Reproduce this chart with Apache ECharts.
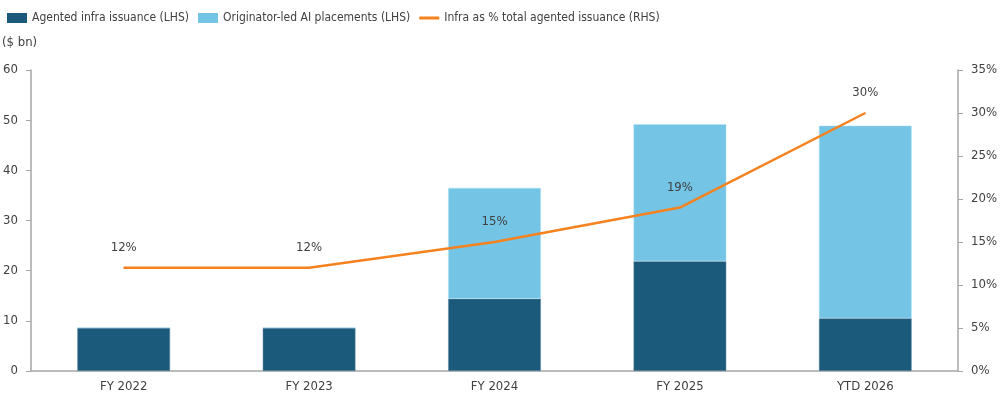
<!DOCTYPE html>
<html>
<head>
<meta charset="utf-8">
<script src="https://cdn.jsdelivr.net/npm/echarts@6/dist/echarts.min.js"></script>
<style>
  html, body { margin: 0; padding: 0; background: #fff; }
  #chart { width: 1000px; height: 400px; }
</style>
</head>
<body>
<div id="chart"></div>
<script>
// values
var categories = ['FY 2022', 'FY 2023', 'FY 2024', 'FY 2025', 'YTD 2026']
var agentedInfra = [8.6, 8.6, 14.4, 21.9, 10.5]
var originatorLed = [0, 0, 22.1, 27.3, 38.4]
var infraPct = [12, 12, 15, 19, 30]
var leftTicks = [0, 10, 20, 30, 40, 50, 60]
var rightTicks = [0, 5, 10, 15, 20, 25, 30, 35]

var font = "'DejaVu Sans Condensed', 'Liberation Sans Narrow', 'Roboto', sans-serif"
var textColor = '#404040'
var axisGray = '#a6a6a6'

var chart = echarts.init(document.getElementById('chart'), null, { renderer: 'canvas' })

var option = {
  animation: false,
  textStyle: { fontFamily: font, color: textColor },
  legend: {
    left: 2,
    top: 7,
    itemWidth: 20,
    itemHeight: 10,
    itemGap: 9,
    itemStyle: { borderWidth: 0 },
    textStyle: { fontFamily: font, fontSize: 12, color: textColor },
    data: [
      { name: 'Agented infra issuance (LHS)', icon: 'rect' },
      { name: 'Originator-led AI placements (LHS)', icon: 'rect' },
      { name: 'Infra as % total agented issuance (RHS)', icon: 'path://M0,0 L20,0 L20,3 L0,3 Z' }
    ]
  },
  graphic: [{
    type: 'text',
    left: 2,
    top: 36,
    style: { text: '($ bn)', fontFamily: font, fontSize: 13, fill: textColor }
  }],
  grid: { left: 31, right: 41, top: 70, bottom: 29 },
  xAxis: {
    type: 'category',
    data: categories,
    axisLine: { lineStyle: { color: axisGray, width: 1.5 } },
    axisTick: { show: false },
    axisLabel: { color: textColor, fontFamily: font, fontSize: 13, margin: 9 }
  },
  yAxis: [{
    type: 'value',
    min: leftTicks[0],
    max: leftTicks[leftTicks.length - 1],
    interval: 10,
    axisLine: { show: true, lineStyle: { color: axisGray, width: 1.5 } },
    axisTick: { show: true, length: 5, lineStyle: { color: axisGray } },
    splitLine: { show: false },
    axisLabel: { color: textColor, fontFamily: font, fontSize: 13, margin: 13 }
  }, {
    type: 'value',
    min: rightTicks[0],
    max: rightTicks[rightTicks.length - 1],
    interval: 5,
    position: 'right',
    axisLine: { show: true, lineStyle: { color: axisGray, width: 1.5 } },
    axisTick: { show: true, length: 5, lineStyle: { color: axisGray } },
    splitLine: { show: false },
    axisLabel: { color: textColor, fontFamily: font, fontSize: 13, margin: 13, formatter: '{value}%' }
  }],
  series: [{
    name: 'Agented infra issuance (LHS)',
    type: 'bar',
    stack: 'lhs',
    barWidth: '50%',
    data: agentedInfra,
    itemStyle: { color: '#1b5a7a', borderColor: '#6a8fa6', borderWidth: 0.5 }
  }, {
    name: 'Originator-led AI placements (LHS)',
    type: 'bar',
    stack: 'lhs',
    barWidth: '50%',
    data: originatorLed,
    itemStyle: { color: '#73c4e5', borderColor: '#b3e0f2', borderWidth: 0.5 }
  }, {
    name: 'Infra as % total agented issuance (RHS)',
    type: 'line',
    yAxisIndex: 1,
    data: infraPct,
    symbol: 'circle',
    symbolSize: 1,
    showSymbol: true,
    smooth: false,
    lineStyle: { color: '#f5821f', width: 2.5 },
    itemStyle: { color: '#f5821f' },
    label: {
      show: true,
      position: 'top',
      distance: 13,
      formatter: '{c}%',
      color: textColor,
      fontFamily: font,
      fontSize: 13
    }
  }]
}

chart.setOption(option)
</script>
</body>
</html>
